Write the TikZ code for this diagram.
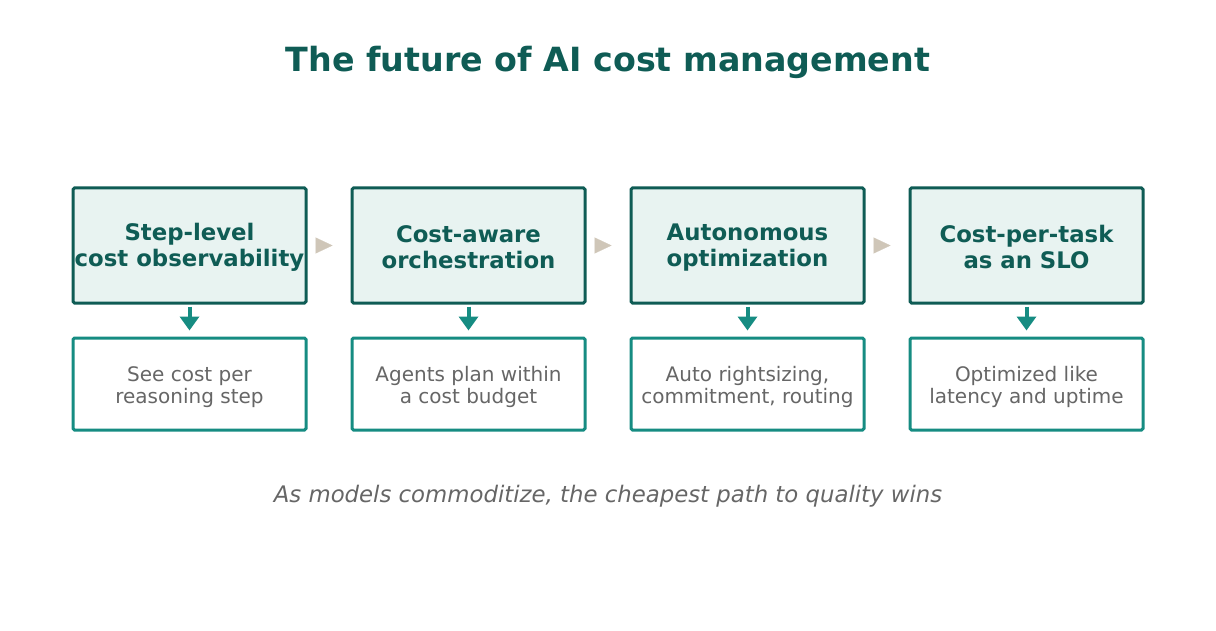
\documentclass[tikz,border=0pt]{standalone}
\usepackage{fontspec}
\setmainfont{DejaVu Sans}
\usetikzlibrary{arrows.meta}
\definecolor{dkgreen}{HTML}{0F5C55}
\definecolor{teal2}{HTML}{168C82}
\definecolor{lightfill}{HTML}{E8F3F1}
\definecolor{graytext}{HTML}{666666}
\definecolor{beige}{HTML}{CFC6B8}
\tikzset{
  x=1pt,y=-1pt,
  topbox/.style={draw=dkgreen, fill=lightfill, line width=3pt, rounded corners=1.5pt, minimum width=233pt, minimum height=115pt, inner sep=0pt},
  botbox/.style={draw=teal2, fill=white, line width=3pt, rounded corners=1.5pt, minimum width=233pt, minimum height=92pt, inner sep=0pt},
  toptext/.style={inner sep=0pt, align=center, font=\fontsize{22.8}{26}\selectfont\bfseries, text=dkgreen},
  bottext/.style={inner sep=0pt, align=center, font=\fontsize{20}{22}\selectfont, text=graytext},
  downarrow/.style={draw=teal2, line width=4pt, -{Triangle[length=14pt,width=19pt]}, shorten <=2pt, shorten >=6pt},
  rightarrow/.style={draw=beige, line width=0.1pt, -{Triangle[length=17pt,width=16pt]}, shorten <=10pt, shorten >=18pt}
}
\begin{document}
\begin{tikzpicture}
\useasboundingbox (0,0) rectangle (1216,631);
\node[font=\fontsize{33.3}{38}\selectfont\bfseries, text=dkgreen] (title) at (608,62) {The future of AI cost management};
\foreach \i/\x/\t/\b in {1/189.5/{Step-level\\cost observability}/{See cost per\\reasoning step},
  2/468.5/{Cost-aware\\orchestration}/{Agents plan within\\a cost budget},
  3/747.5/{Autonomous\\optimization}/{Auto rightsizing,\\commitment, routing},
  4/1026.5/{Cost-per-task\\as an SLO}/{Optimized like\\latency and uptime}}{
  \node[topbox] (t\i) at (\x,245.5) {};
  \node[toptext] (tt\i) at (\x,247.5) {\t};
  \node[botbox] (b\i) at (\x,384) {};
  \node[bottext] (bt\i) at (\x,387) {\b};
  \draw[downarrow] (t\i.south) -- (b\i.north);
}
\foreach \a/\b in {1/2,2/3,3/4}{
  \draw[rightarrow] (t\a.east) -- (t\b.west);
}
\node[font=\fontsize{22.8}{26}\selectfont\itshape, text=graytext] (sub) at (608,496) {As models commoditize, the cheapest path to quality wins};
\end{tikzpicture}
\end{document}
